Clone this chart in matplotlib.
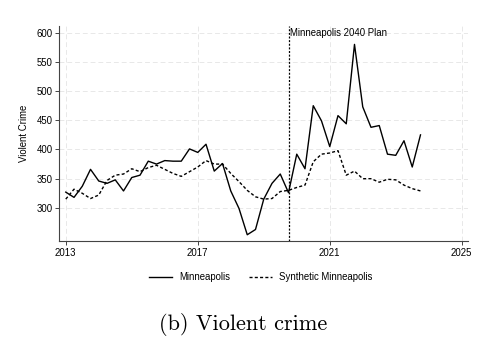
import matplotlib
matplotlib.use('Agg')
import matplotlib.pyplot as plt
import numpy as np

plt.rcParams['font.family'] = ['Liberation Sans', 'DejaVu Sans']

# quarterly series, 2013Q1 .. 2023Q4
minneapolis = [327, 318, 337, 366, 346, 342, 348, 329, 352, 356,
               380, 375, 381, 380, 380, 401, 395, 409, 363, 376,
               329, 299, 254, 263, 315, 342, 358, 326, 392, 367,
               475, 449, 405, 458, 444, 580, 473, 438, 441, 392,
               390, 415, 370, 425]
synthetic = [315, 332, 325, 316, 322, 347, 356, 358, 367, 362,
             369, 373, 366, 359, 354, 362, 370, 381, 375, 375,
             359, 345, 330, 319, 315, 316, 328, 330, 335, 339,
             379, 392, 394, 398, 356, 363, 350, 350, 344, 349,
             348, 339, 333, 329]
start_year = 2013
plan_year = 2019.75
x_ticks = [2013, 2017, 2021, 2025]
y_ticks = [300, 350, 400, 450, 500, 550, 600]

t = start_year + np.arange(len(minneapolis)) / 4

fig = plt.figure(figsize=(4.95, 3.48), dpi=100)
ax = fig.add_axes([0.1202, 0.3075, 0.8246, 0.6178])

ax.plot(t, minneapolis, color='black', lw=1.0, label='Minneapolis')
ax.plot(t, synthetic, color='black', lw=1.0, dashes=(2.2, 1.6),
        label='Synthetic Minneapolis')
ax.axvline(plan_year, color='black', lw=0.9, dashes=(1.6, 1.3))
ax.text(plan_year + 0.06, 600, 'Minneapolis 2040 Plan', fontsize=6.9,
        ha='left', va='center')

ax.set_xlim(2012.81, 2025.18)
ax.set_ylim(243.3, 611.5)
ax.set_xticks(x_ticks)
ax.set_yticks(y_ticks)
ax.grid(True, color='#e8e8e8', lw=0.7, dashes=(5, 3))
ax.set_axisbelow(True)
for s in ['top', 'right']:
    ax.spines[s].set_visible(False)
for s in ['left', 'bottom']:
    ax.spines[s].set_color('#444444')
    ax.spines[s].set_linewidth(0.8)
ax.tick_params(labelsize=6.9, length=3, width=0.7, color='#444444', pad=2)
ax.set_ylabel('Violent Crime', fontsize=6.9, labelpad=5)

fig.legend(loc='center', bbox_to_anchor=(0.527, 0.203), ncol=2,
           frameon=False, fontsize=6.9, handlelength=2.4,
           handletextpad=0.75, columnspacing=1.9)

fig.text(0.492, 0.068, '(b) Violent crime', family='cmr10', fontsize=16,
         ha='center', va='center')

fig.savefig('out.png', dpi=100)
